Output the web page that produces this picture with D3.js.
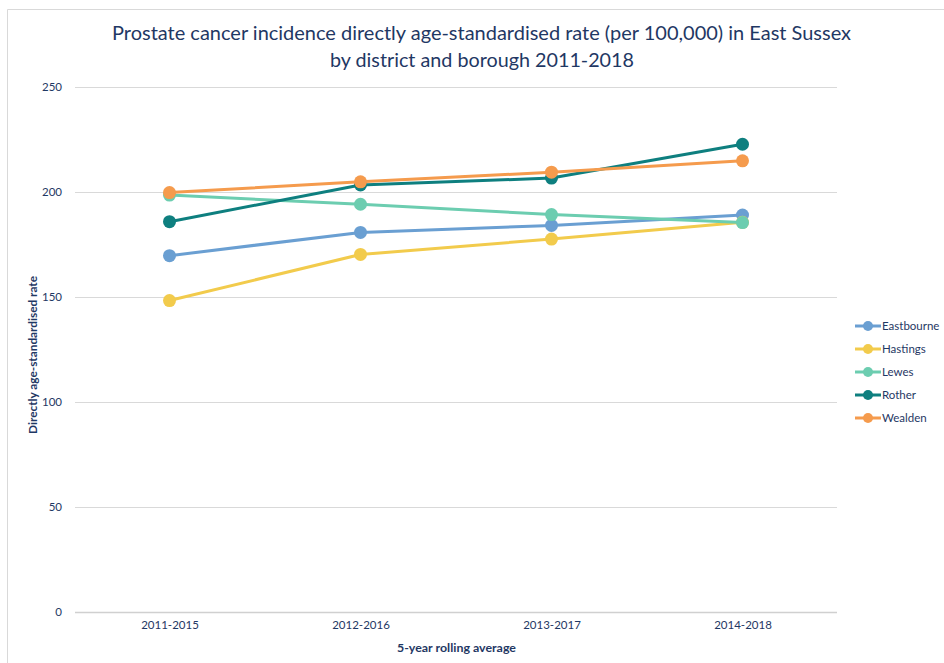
<!DOCTYPE html>
<html>
<head>
<meta charset="utf-8">
<script src="https://cdn.jsdelivr.net/npm/d3@7"></script>
<style>
  html, body { margin: 0; padding: 0; background: #fff; }
  svg text { font-family: Lato, "Open Sans", sans-serif; fill: #1f3864; }
</style>
</head>
<body>
<svg id="chart" width="944" height="663"></svg>
<script>
// 5-year rolling periods
const periods = ["2011-2015", "2012-2016", "2013-2017", "2014-2018"];

// Directly age-standardised rate per 100,000, by district/borough
const eastbourne = [169.6, 180.7, 184.0, 189.0];
const hastings   = [148.2, 170.2, 177.5, 185.5];
const lewes      = [198.5, 194.1, 189.2, 185.4];
const rother     = [185.8, 203.3, 206.6, 222.7];
const wealden    = [199.7, 204.8, 209.4, 214.8];

const seriesNames  = ["Eastbourne", "Hastings", "Lewes", "Rother", "Wealden"];
const seriesValues = [eastbourne, hastings, lewes, rother, wealden];
const seriesColors = ["#6a9fd2", "#f2cb4c", "#6ccdb0", "#0e7f7f", "#f59b4d"];

const yTicks = [0, 50, 100, 150, 200, 250];

const svg = d3.select("#chart");
const W = 944, H = 663;
const textColor = "#1f3864";
const font = 'Lato, "Open Sans", sans-serif';

// outer frame (left and top edges)
svg.append("line").attr("x1", 7.5).attr("x2", 7.5).attr("y1", 9.5).attr("y2", H)
  .attr("stroke", "#d9d9d9").attr("stroke-width", 1);
svg.append("line").attr("x1", 7.5).attr("x2", W).attr("y1", 9.5).attr("y2", 9.5)
  .attr("stroke", "#d9d9d9").attr("stroke-width", 1);

const plot = { left: 74, right: 838, top: 87, bottom: 611.5 };

const x = d3.scalePoint().domain(periods).range([plot.left, plot.right]).padding(0.5);
const y = d3.scaleLinear().domain([0, 250]).range([plot.bottom, plot.top]);

// title
const title = svg.append("text").attr("text-anchor", "middle").attr("font-size", 20);
title.append("tspan").attr("x", 481.5).attr("y", 40)
  .attr("textLength", 739).attr("lengthAdjust", "spacingAndGlyphs")
  .text("Prostate cancer incidence directly age-standardised rate (per 100,000) in East Sussex");
title.append("tspan").attr("x", 482).attr("y", 67)
  .attr("textLength", 304).attr("lengthAdjust", "spacingAndGlyphs")
  .text("by district and borough 2011-2018");

// horizontal gridlines
svg.append("g").selectAll("line").data(yTicks).join("line")
  .attr("x1", 75).attr("x2", 837)
  .attr("y1", d => Math.round(y(d)) + 0.5).attr("y2", d => Math.round(y(d)) + 0.5)
  .attr("stroke", d => d === 0 ? "#d0d0d0" : "#d9d9d9").attr("stroke-width", d => d === 0 ? 1.5 : 1);

// y axis labels
const yAxis = d3.axisLeft(y).tickValues(yTicks).tickSize(0).tickPadding(0);
const gy = svg.append("g").attr("transform", `translate(62,0)`).call(yAxis);
gy.select(".domain").remove();
gy.selectAll("text").attr("font-size", 11.5).style("fill", textColor).style("font-family", font);

// x axis labels
const xAxis = d3.axisBottom(x).tickSize(0).tickPadding(0);
const gx = svg.append("g").attr("transform", `translate(0,621)`).call(xAxis);
gx.select(".domain").remove();
gx.selectAll("text").attr("font-size", 11.5).style("fill", textColor).style("font-family", font);

// axis titles
svg.append("text").attr("x", 456.5).attr("y", 652).attr("text-anchor", "middle")
  .attr("font-size", 11.5).attr("font-weight", "bold")
  .attr("textLength", 119).attr("lengthAdjust", "spacingAndGlyphs")
  .text("5-year rolling average");
svg.append("text").attr("transform", "translate(37,355) rotate(-90)").attr("text-anchor", "middle")
  .attr("font-size", 11.5).attr("font-weight", "bold")
  .attr("textLength", 158).attr("lengthAdjust", "spacingAndGlyphs")
  .text("Directly age-standardised rate");

// series lines and markers
const line = d3.line().x((d, i) => x(periods[i])).y(d => y(d));
const seriesG = svg.append("g").selectAll("g").data(seriesValues).join("g");
seriesG.append("path")
  .attr("d", d => line(d)).attr("fill", "none")
  .attr("stroke", (d, i) => seriesColors[i]).attr("stroke-width", 3)
  .attr("stroke-linejoin", "round");
seriesG.each(function(vals, si) {
  d3.select(this).selectAll("circle").data(vals).join("circle")
    .attr("cx", (d, i) => x(periods[i])).attr("cy", d => y(d)).attr("r", 6.5)
    .attr("fill", seriesColors[si]);
});

// legend
const legend = svg.append("g").attr("transform", "translate(855,326)");
const rows = legend.selectAll("g").data(seriesNames).join("g")
  .attr("transform", (d, i) => `translate(0,${i * 23})`);
rows.append("line").attr("x1", 0).attr("x2", 26).attr("y1", 0).attr("y2", 0)
  .attr("stroke", (d, i) => seriesColors[i]).attr("stroke-width", 3);
rows.append("circle").attr("cx", 13).attr("cy", 0).attr("r", 5)
  .attr("fill", (d, i) => seriesColors[i]);
rows.append("text").attr("x", 27).attr("y", 4).attr("font-size", 11.5).text(d => d);
</script>
</body>
</html>
